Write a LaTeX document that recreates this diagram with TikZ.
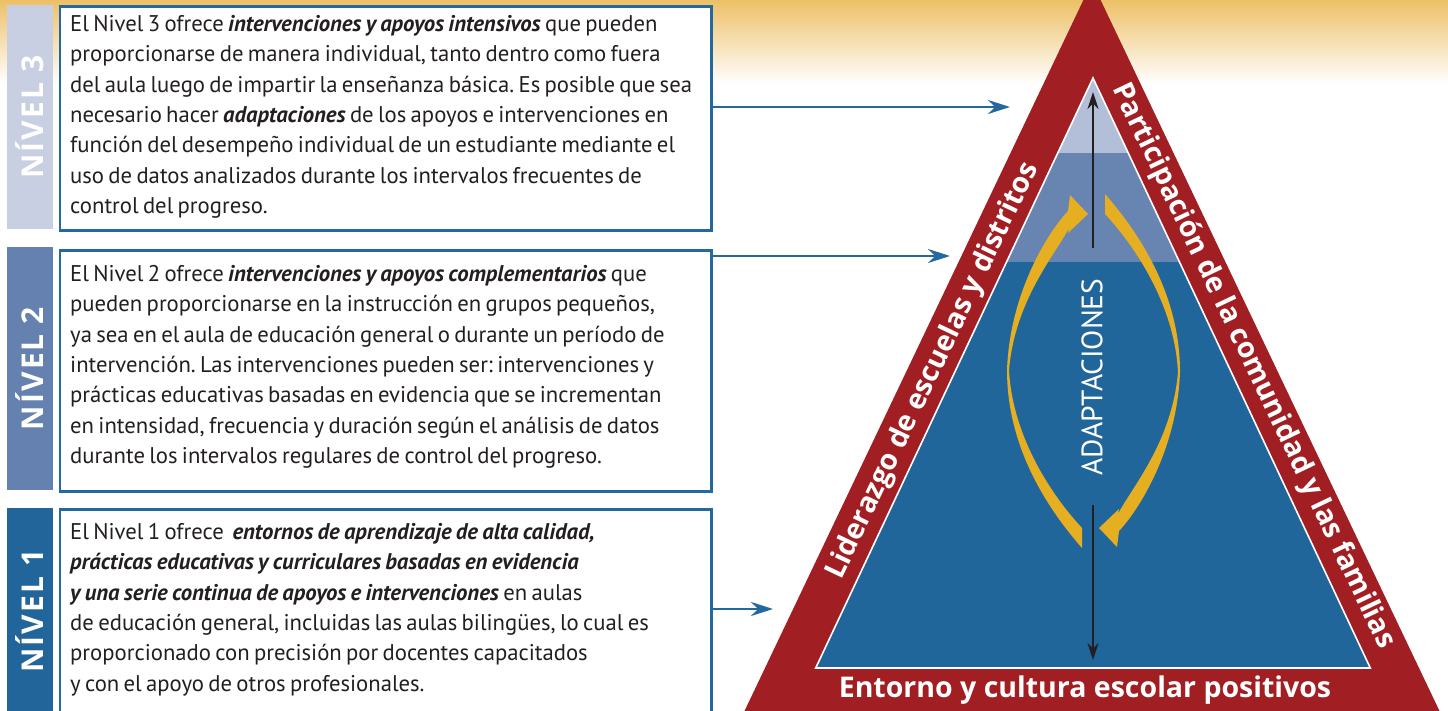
\documentclass[tikz,border=0pt]{standalone}
\usepackage{fontspec}
\setmainfont{PT Sans}
\newfontfamily\bandfont{Open Sans}
\newfontfamily\labfont[LetterSpace=7]{Open Sans}
\usetikzlibrary{arrows.meta,calc}
\definecolor{gold}{HTML}{EDC066}
\definecolor{lab3}{HTML}{C9CFE3}
\definecolor{lab2}{HTML}{6581B0}
\definecolor{lab1}{HTML}{22659B}
\definecolor{boxblue}{HTML}{2468A0}
\definecolor{redtri}{HTML}{A11E23}
\definecolor{tier3}{HTML}{B3BED8}
\definecolor{tier2}{HTML}{6884B1}
\definecolor{tier1}{HTML}{21669A}
\definecolor{ygold}{HTML}{E6AE21}
\definecolor{blk}{HTML}{231F20}
\newcommand{\boxfont}{\fontsize{22.7}{30.3}\selectfont\frenchspacing\spaceskip=0.19em\raggedright}
\newcommand{\bi}[1]{\textbf{\textit{#1}}}
\begin{document}
\begin{tikzpicture}[x=1pt,y=-1pt,
  lab/.style={rotate=90,minimum height=45.5pt,inner sep=0pt,text=white,
    font=\labfont\fontsize{30}{30}\selectfont\bfseries},
  tbox/.style={draw=boxblue,line width=2.5pt,fill=white,anchor=north west,inner sep=0pt},
  btext/.style={anchor=base west,inner sep=0pt,text=blk},
  barrow/.style={draw=boxblue,line width=2.6pt,-{Stealth[length=22pt,width=14pt]}},
  karrow/.style={draw=blk,line width=2pt,-{Stealth[length=17pt,width=11pt]}},
  bandtxt/.style={text=white,inner sep=0pt,font=\bandfont\fontsize{28.5}{28.5}\selectfont\bfseries}
]
\useasboundingbox (0,0) rectangle (1448,710);
% background gradient
\shade[top color=gold,bottom color=white] (0,0) rectangle (1448,84);

% level labels
\node[lab,fill=lab3,minimum width=224pt] (l3) at (29.75,117) {NÍVEL 3};
\node[lab,fill=lab2,minimum width=243pt] (l2) at (29.75,368.5) {NÍVEL 2};
\node[lab,fill=lab1,minimum width=206pt] (l1) at (29.75,611) {NÍVEL 1};

% text boxes
\node[tbox,minimum width=651.5pt,minimum height=224pt] (b3) at (58.5,5) {};
\node[tbox,minimum width=651.5pt,minimum height=241pt] (b2) at (58.5,249) {};
\node[tbox,minimum width=651.5pt,minimum height=230pt] (b1) at (58.5,508) {};

\node[btext] (t3) at (70,31.5) {\parbox[t]{640pt}{\boxfont
El Nivel 3 ofrece \bi{intervenciones y apoyos intensivos} que pueden\\
proporcionarse de manera individual, tanto dentro como fuera\\
del aula luego de impartir la enseñanza básica. Es posible que sea\\
necesario hacer \bi{adaptaciones} de los apoyos e intervenciones en\\
función del desempeño individual de un estudiante mediante el\\
uso de datos analizados durante los intervalos frecuentes de\\
control del progreso.}};

\node[btext] (t2) at (70,281.5) {\parbox[t]{640pt}{\boxfont
El Nivel 2 ofrece \bi{intervenciones y apoyos complementarios} que\\
pueden proporcionarse en la instrucción en grupos pequeños,\\
ya sea en el aula de educación general o durante un período de\\
intervención. Las intervenciones pueden ser: intervenciones y\\
prácticas educativas basadas en evidencia que se incrementan\\
en intensidad, frecuencia y duración según el análisis de datos\\
durante los intervalos regulares de control del progreso.}};

\node[btext] (t1) at (70,539.5) {\parbox[t]{640pt}{\boxfont
El Nivel 1 ofrece\ \ \bi{entornos de aprendizaje de alta calidad,}\\
\bi{prácticas educativas y curriculares basadas en evidencia}\\
\bi{y una serie continua de apoyos e intervenciones} en aulas\\
de educación general, incluidas las aulas bilingües, lo cual es\\
proporcionado con precisión por docentes capacitados\\
y con el apoyo de otros profesionales.}};

% outer red triangle
\fill[redtri] (1092,-18) -- (740.2,720) -- (1443.8,720) -- cycle;
% inner tiers
\begin{scope}
  \clip (1093,78) -- (815.7,668) -- (1370.3,668) -- cycle;
  \fill[tier1] (800,262) rectangle (1400,670);
  \fill[tier2] (800,153) rectangle (1400,262);
  \fill[tier3] (800,70) rectangle (1400,153);
\end{scope}
\draw[white,line width=1.6pt,line join=miter] (1093,78) -- (815.7,668) -- (1370.3,668) -- cycle;

% connector arrows
\coordinate (a3) at (1010,107);
\coordinate (a2) at (950,256);
\coordinate (a1) at (773,609);
\draw[barrow] (b3.east |- a3) -- (a3);
\draw[barrow] (b2.east |- a2) -- (a2);
\draw[barrow] (b1.east |- a1) -- (a1);

% yellow adaptation arrows
\foreach \r in {0,180}{
  \begin{scope}[rotate around={\r:(1093.5,371)}]
  \fill[ygold] (1088,214) -- (1070,195) -- (1068,211)
    .. controls (1050,230) and (1010,290) .. (1007,370)
    .. controls (1007,440) and (1040,500) .. (1082,548)
    -- (1082,528)
    .. controls (1045,488) and (1012,430) .. (1009,370)
    .. controls (1015,300) and (1055,255) .. (1069,228)
    -- (1068,233) -- cycle;
  \end{scope}
}

% black vertical arrows
\coordinate (u0) at (1093,248);
\coordinate (u1) at (1093,92);
\coordinate (d0) at (1093,505);
\coordinate (d1) at (1093,660);
\draw[karrow] (u0) -- (u1);
\draw[karrow] (d0) -- (d1);

\node[text=white,rotate=90,inner sep=0pt,font=\fontsize{29.5}{29.5}\selectfont] (adapt) at (1092,377) {ADAPTACIONES};

% band texts
\node[bandtxt,rotate=64.5] (lead) at (933,371) {Liderazgo de escuelas y distritos};
\node[bandtxt,rotate=-64.5] (part) at (1253,366) {Participación de la comunidad y las familias};
\node[bandtxt] (env) at (1085,690) {Entorno y cultura escolar positivos};
\end{tikzpicture}
\end{document}
